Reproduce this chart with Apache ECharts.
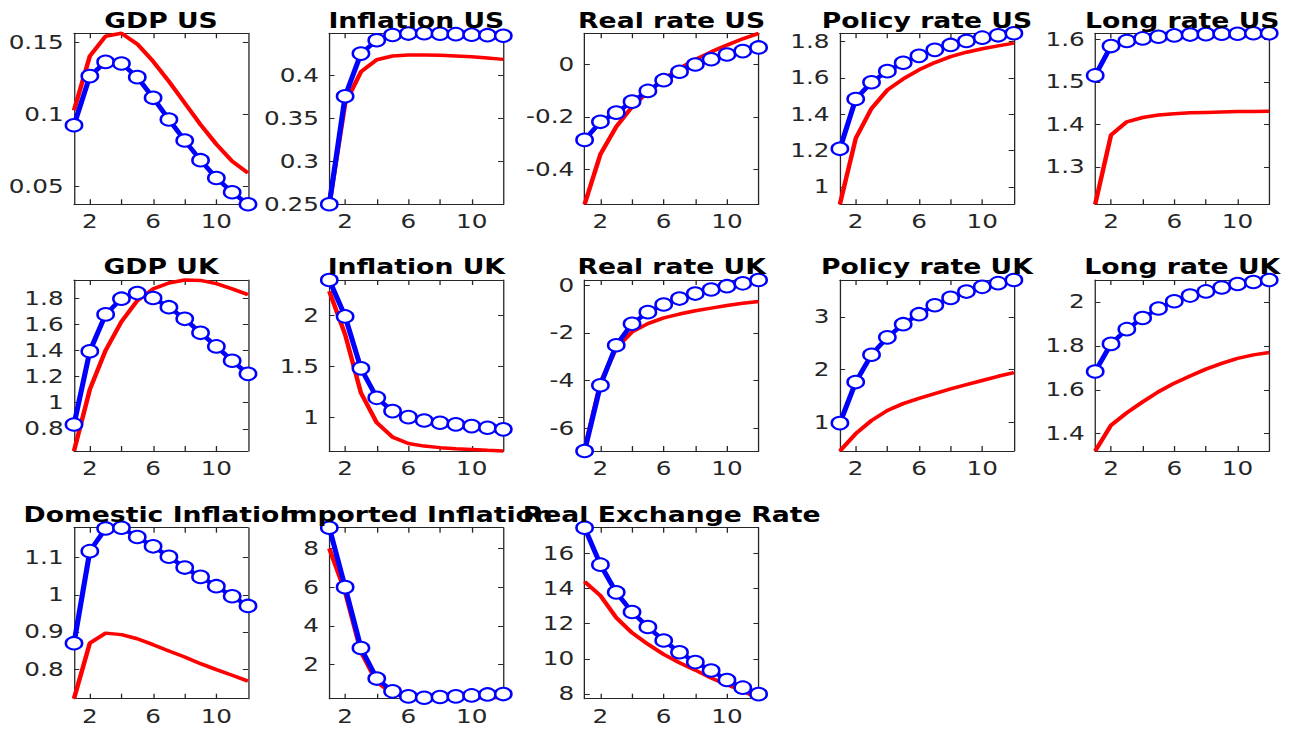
<!DOCTYPE html>
<html><head><meta charset="utf-8">
<script src="https://cdn.jsdelivr.net/npm/echarts@6/dist/echarts.min.js"></script>
<style>
html,body{margin:0;padding:0;background:#fff;overflow:hidden}
#wrap{width:1289px;height:731px;overflow:hidden;position:relative}
#chart{width:991.5px;height:731px;transform:scaleX(1.3);transform-origin:0 0}
</style></head><body><div id="wrap"><div id="chart"></div></div>
<script>
// ---------- data ----------
const periods = [1,2,3,4,5,6,7,8,9,10,11,12];
const xTickValues = [2,4,6,8,10];
const xTickLabels = [2,6,10];

const gdpUsBlue = [0.0925,0.1267,0.1366,0.1355,0.1260,0.1116,0.0965,0.0819,0.0682,0.0558,0.0459,0.0375];
const gdpUsRed  = [0.1028,0.1406,0.1545,0.1565,0.1490,0.1370,0.1230,0.1080,0.0930,0.0793,0.0675,0.0593];
const gdpUsTicks = [0.05,0.1,0.15];

const infUsBlue = [0.25,0.3756,0.4252,0.4407,0.4468,0.4485,0.4488,0.4483,0.4478,0.4472,0.4466,0.4460];
const infUsRed  = [0.25,0.367,0.404,0.418,0.4224,0.4236,0.4236,0.4232,0.4225,0.4215,0.4202,0.4185];
const infUsTicks = [0.25,0.3,0.35,0.4];

const rrUsBlue = [-0.288,-0.219,-0.184,-0.142,-0.101,-0.060,-0.028,0.000,0.020,0.038,0.051,0.065];
const rrUsRed  = [-0.534,-0.343,-0.238,-0.162,-0.105,-0.056,-0.015,0.019,0.048,0.074,0.098,0.119];
const rrUsTicks = [-0.4,-0.2,0];

const prUsBlue = [1.21,1.484,1.576,1.637,1.683,1.721,1.754,1.781,1.803,1.821,1.834,1.845];
const prUsRed  = [0.905,1.267,1.432,1.533,1.594,1.644,1.684,1.717,1.741,1.760,1.776,1.791];
const prUsTicks = [1,1.2,1.4,1.6,1.8];

const lrUsBlue = [1.515,1.584,1.596,1.602,1.606,1.609,1.611,1.612,1.613,1.613,1.614,1.614];
const lrUsRed  = [1.212,1.375,1.406,1.416,1.422,1.425,1.427,1.428,1.429,1.430,1.430,1.431];
const lrUsTicks = [1.3,1.4,1.5,1.6];

const gdpUkBlue = [0.833,1.393,1.675,1.795,1.838,1.800,1.730,1.641,1.534,1.430,1.320,1.220];
const gdpUkRed  = [0.63,1.10,1.40,1.62,1.78,1.87,1.915,1.938,1.935,1.91,1.87,1.826];
const gdpUkTicks = [0.8,1,1.2,1.4,1.6,1.8];

const infUkBlue = [2.35,1.993,1.484,1.195,1.065,1.006,0.973,0.951,0.935,0.918,0.902,0.886];
const infUkRed  = [2.24,1.816,1.244,0.951,0.81,0.748,0.722,0.707,0.697,0.689,0.681,0.674];
const infUkTicks = [1,1.5,2];

const rrUkBlue = [-6.96,-4.20,-2.52,-1.62,-1.13,-0.81,-0.56,-0.35,-0.18,-0.04,0.08,0.22];
const rrUkRed  = [-6.90,-4.10,-2.63,-1.96,-1.61,-1.37,-1.21,-1.07,-0.96,-0.85,-0.76,-0.68];
const rrUkTicks = [-6,-4,-2,0];

const prUkBlue = [0.98,1.76,2.28,2.61,2.86,3.05,3.22,3.36,3.48,3.57,3.64,3.70];
const prUkRed  = [0.45,0.78,1.03,1.22,1.35,1.45,1.54,1.63,1.71,1.79,1.87,1.94];
const prUkTicks = [1,2,3];

const lrUkBlue = [1.683,1.809,1.876,1.927,1.970,2.003,2.029,2.048,2.066,2.082,2.091,2.100];
const lrUkRed  = [1.321,1.438,1.495,1.545,1.591,1.630,1.663,1.694,1.720,1.743,1.759,1.770];
const lrUkTicks = [1.4,1.6,1.8,2];

const domInfBlue = [0.870,1.117,1.178,1.180,1.155,1.130,1.102,1.073,1.048,1.023,0.996,0.970];
const domInfRed  = [0.721,0.870,0.897,0.893,0.882,0.866,0.849,0.833,0.815,0.799,0.784,0.768];
const domInfTicks = [0.8,0.9,1,1.1];

const impInfBlue = [9.07,6.00,2.86,1.28,0.62,0.36,0.29,0.33,0.36,0.41,0.46,0.48];
const impInfRed  = [8.00,5.76,2.66,1.10,0.50,0.30,0.25,0.24,0.25,0.27,0.29,0.30];
const impInfTicks = [2,4,6,8];

const rerBlue = [17.48,15.37,13.79,12.67,11.81,11.04,10.37,9.81,9.33,8.79,8.35,7.98];
const rerRed  = [14.40,13.60,12.35,11.48,10.83,10.25,9.77,9.35,8.90,8.52,8.17,7.72];
const rerTicks = [8,10,12,14,16];

const panels = [
  {title:'GDP US', blue:gdpUsBlue, red:gdpUsRed, ticks:gdpUsTicks},
  {title:'Inflation US', blue:infUsBlue, red:infUsRed, ticks:infUsTicks},
  {title:'Real rate US', blue:rrUsBlue, red:rrUsRed, ticks:rrUsTicks},
  {title:'Policy rate US', blue:prUsBlue, red:prUsRed, ticks:prUsTicks},
  {title:'Long rate US', blue:lrUsBlue, red:lrUsRed, ticks:lrUsTicks},
  {title:'GDP UK', blue:gdpUkBlue, red:gdpUkRed, ticks:gdpUkTicks},
  {title:'Inflation UK', blue:infUkBlue, red:infUkRed, ticks:infUkTicks},
  {title:'Real rate UK', blue:rrUkBlue, red:rrUkRed, ticks:rrUkTicks},
  {title:'Policy rate UK', blue:prUkBlue, red:prUkRed, ticks:prUkTicks},
  {title:'Long rate UK', blue:lrUkBlue, red:lrUkRed, ticks:lrUkTicks},
  {title:'Domestic Inflation', blue:domInfBlue, red:domInfRed, ticks:domInfTicks},
  {title:'Imported Inflation', blue:impInfBlue, red:impInfRed, ticks:impInfTicks},
  {title:'Real Exchange Rate', blue:rerBlue, red:rerRed, ticks:rerTicks}
];

// ---------- layout ----------
const S = 1.3;                 // horizontal stretch applied by CSS
const colLeft0 = 74, colStep = 255.3, boxW = 174;
const rowTops = [33.3, 280, 527.7], boxH = 171;
const AX = '#262626';
const FONT = 'DejaVu Sans';

const option = {animation:false, backgroundColor:'#fff', title:[], grid:[], xAxis:[], yAxis:[], series:[]};

panels.forEach((p, i) => {
  const row = Math.floor(i/5), col = i%5;
  const left = (colLeft0 + col*colStep)/S, width = boxW/S, top = rowTops[row];
  const yMin = Math.min(...p.blue, ...p.red), yMax = Math.max(...p.blue, ...p.red);
  option.grid.push({left:left, top:top, width:width, height:boxH, containLabel:false});
  option.title.push({text:p.title, left:left + width/2, top:top - 23, textAlign:'center', padding:0,
    textStyle:{fontFamily:FONT, fontWeight:'bold', fontSize:20.5, color:'#000'}});
  const line = {show:true, onZero:false, lineStyle:{color:AX, width:1}};
  const xBase = {gridIndex:i, type:'value', min:1, max:12, axisLine:line, splitLine:{show:false},
    axisTick:{show:true, inside:true, length:5, customValues:xTickValues, lineStyle:{color:AX, width:1}}};
  option.xAxis.push(Object.assign({}, xBase, {position:'bottom',
    axisLabel:{customValues:xTickLabels, fontFamily:FONT, fontSize:19, color:AX, margin:8}}));
  option.xAxis.push(Object.assign({}, xBase, {position:'top', axisLabel:{show:false}}));
  const yBase = {gridIndex:i, type:'value', min:yMin, max:yMax, axisLine:line, splitLine:{show:false},
    axisTick:{show:true, inside:true, length:4, customValues:p.ticks, lineStyle:{color:AX, width:1}}};
  option.yAxis.push(Object.assign({}, yBase, {position:'left',
    axisLabel:{customValues:p.ticks, fontFamily:FONT, fontSize:19, color:AX, margin:8}}));
  option.yAxis.push(Object.assign({}, yBase, {position:'right', axisLabel:{show:false}}));
  const xi = 2*i, yi = 2*i;
  option.series.push({type:'line', xAxisIndex:xi, yAxisIndex:yi, data:periods.map((t,k)=>[t,p.red[k]]),
    showSymbol:false, symbol:'none', clip:false, lineStyle:{color:'#ff0000', width:3.5}, itemStyle:{color:'#ff0000'},
    z:2, silent:true});
  option.series.push({type:'line', xAxisIndex:xi, yAxisIndex:yi, data:periods.map((t,k)=>[t,p.blue[k]]),
    symbol:'emptyCircle', symbolSize:12.5, showAllSymbol:true, clip:false,
    lineStyle:{color:'#0000ff', width:4}, itemStyle:{color:'#0000ff', borderColor:'#0000ff', borderWidth:4},
    z:3, silent:true});
});

const chart = echarts.init(document.getElementById('chart'), null, {renderer:'svg'});
chart.setOption(option);
</script></body></html>
